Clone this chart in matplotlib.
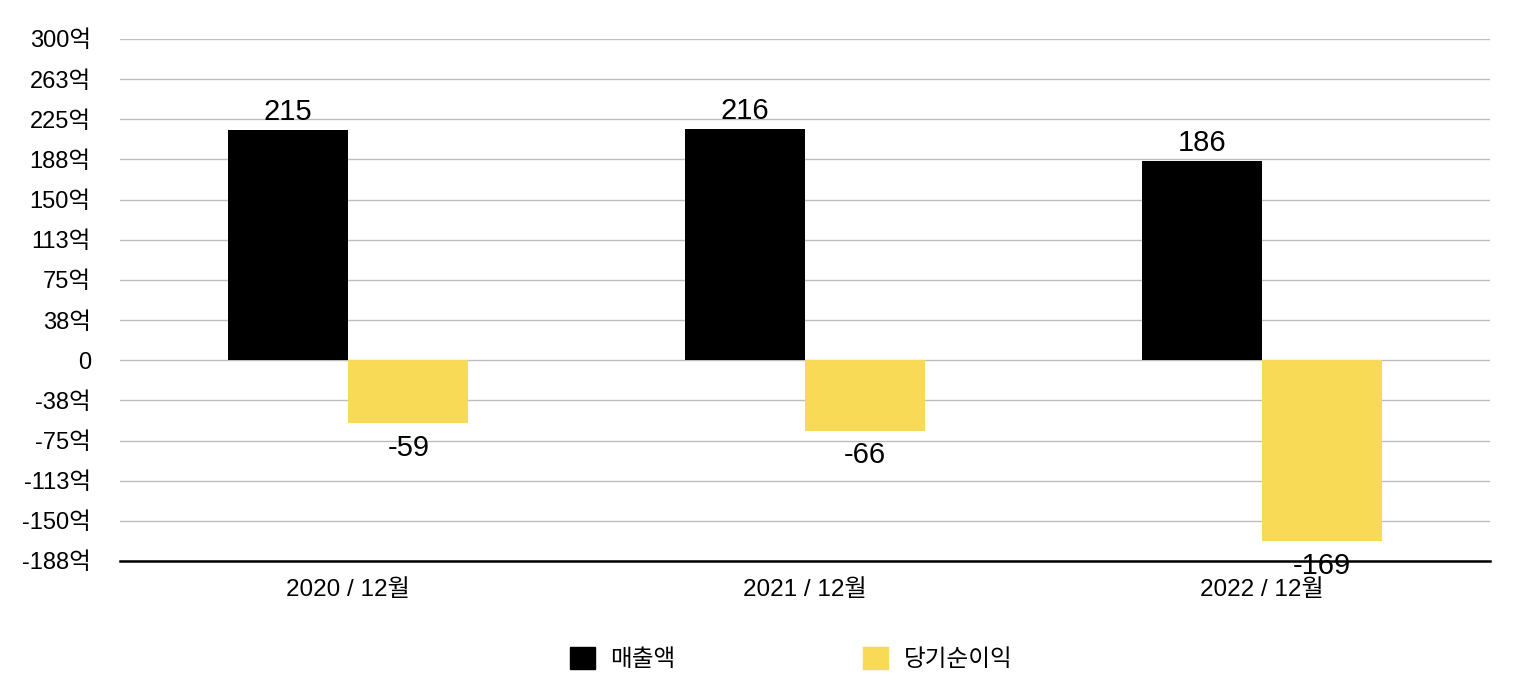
import matplotlib.pyplot as plt
from matplotlib.patches import Patch
import numpy as np

plt.rcParams['font.family'] = ['Liberation Sans', 'Noto Sans CJK KR', 'DejaVu Sans']

categories = ['2020 / 12월', '2021 / 12월', '2022 / 12월']
sales = [215, 216, 186]
net_income = [-59, -66, -169]
series_names = ['매출액', '당기순이익']
ytick_values = [300, 262.5, 225, 187.5, 150, 112.5, 75, 37.5, 0,
                -37.5, -75, -112.5, -150, -187.5]
ytick_labels = ['300억', '263억', '225억', '188억', '150억', '113억', '75억', '38억', '0',
                '-38억', '-75억', '-113억', '-150억', '-188억']

black = '#000000'
yellow = '#F8DA56'

fig = plt.figure(figsize=(15.32, 6.96), dpi=100)
ax = fig.add_axes([0.0783, 0.194, 0.8943, 0.75])

x = np.arange(len(categories))
w = 0.263
b1 = ax.bar(x - w / 2, sales, w, color=black, zorder=3)
b2 = ax.bar(x + w / 2, net_income, w, color=yellow, zorder=3)

for rect, v in zip(b1, sales):
    ax.annotate(str(v), (rect.get_x() + rect.get_width() / 2, v),
                xytext=(0, 3), textcoords='offset points',
                ha='center', va='bottom', fontsize=21, zorder=5)
for rect, v in zip(b2, net_income):
    ax.annotate(str(v), (rect.get_x() + rect.get_width() / 2, v),
                xytext=(0, -7.5), textcoords='offset points',
                ha='center', va='top', fontsize=21, zorder=5)

ax.set_xlim(-0.5, 2.5)
ax.set_ylim(-187.5, 300)
ax.set_yticks(ytick_values)
ax.set_yticklabels(ytick_labels, fontsize=17)
ax.set_xticks(x)
ax.set_xticklabels(categories, fontsize=17.5)
ax.tick_params(axis='y', length=0, pad=21)
ax.tick_params(axis='x', length=0, pad=13)
ax.grid(axis='y', color='#BDBDBD', linewidth=1, zorder=0)
for s in ['left', 'right', 'top']:
    ax.spines[s].set_visible(False)
ax.spines['bottom'].set_color('black')
ax.spines['bottom'].set_linewidth(1.8)
ax.spines['bottom'].set_zorder(4)

handles = [Patch(color=black), Patch(color=yellow)]
fig.legend(handles, series_names, loc='center', bbox_to_anchor=(0.5163, 0.053),
           ncol=2, frameon=False, fontsize=17, handlelength=1.06, handleheight=1.06,
           handletextpad=0.65, columnspacing=7.95)

fig.savefig('out.png', dpi=100)
